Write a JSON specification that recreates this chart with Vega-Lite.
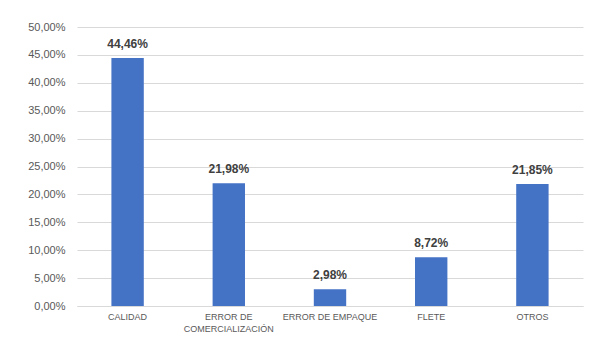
{
  "$schema": "https://vega.github.io/schema/vega-lite/v6.json",
  "width": 506,
  "height": 279,
  "autosize": {"type": "none"},
  "padding": {"left": 77, "top": 27, "right": 18, "bottom": 39},
  "background": "white",
  "config": {
    "view": {"stroke": null},
    "locale": {"number": {"decimal": ",", "thousands": ".", "grouping": [3], "currency": ["", " €"]}},
    "font": "Liberation Sans"
  },
  "data": {
    "values": [
      {"categoria": "CALIDAD", "valor": 0.4446},
      {"categoria": "ERROR DE COMERCIALIZACIÓN", "valor": 0.2198},
      {"categoria": "ERROR DE EMPAQUE", "valor": 0.0298},
      {"categoria": "FLETE", "valor": 0.0872},
      {"categoria": "OTROS", "valor": 0.2185}
    ]
  },
  "encoding": {
    "x": {
      "field": "categoria",
      "type": "nominal",
      "sort": null,
      "scale": {"paddingInner": 0.68, "paddingOuter": 0.34},
      "axis": {
        "title": null,
        "labelAngle": 0,
        "labelFontSize": 9,
        "labelColor": "#595959",
        "labelPadding": 6,
        "ticks": false,
        "domainColor": "#d9d9d9",
        "labelLineHeight": 12,
        "labelExpr": "datum.label == 'ERROR DE COMERCIALIZACIÓN' ? ['ERROR DE', 'COMERCIALIZACIÓN'] : datum.label"
      }
    },
    "y": {
      "field": "valor",
      "type": "quantitative",
      "scale": {"domain": [0, 0.5], "nice": false},
      "axis": {
        "title": null,
        "format": ".2%",
        "values": [0, 0.05, 0.1, 0.15, 0.2, 0.25, 0.3, 0.35, 0.4, 0.45, 0.5],
        "labelFontSize": 11,
        "labelColor": "#595959",
        "labelPadding": 12,
        "ticks": false,
        "domain": false,
        "gridColor": "#d9d9d9",
        "gridWidth": 1
      }
    }
  },
  "layer": [
    {"mark": {"type": "bar", "color": "#4472C4"}},
    {
      "mark": {"type": "text", "baseline": "bottom", "dy": -7, "fontSize": 12, "fontWeight": "bold", "color": "#404040"},
      "encoding": {"text": {"field": "valor", "type": "quantitative", "format": ".2%"}}
    }
  ]
}
